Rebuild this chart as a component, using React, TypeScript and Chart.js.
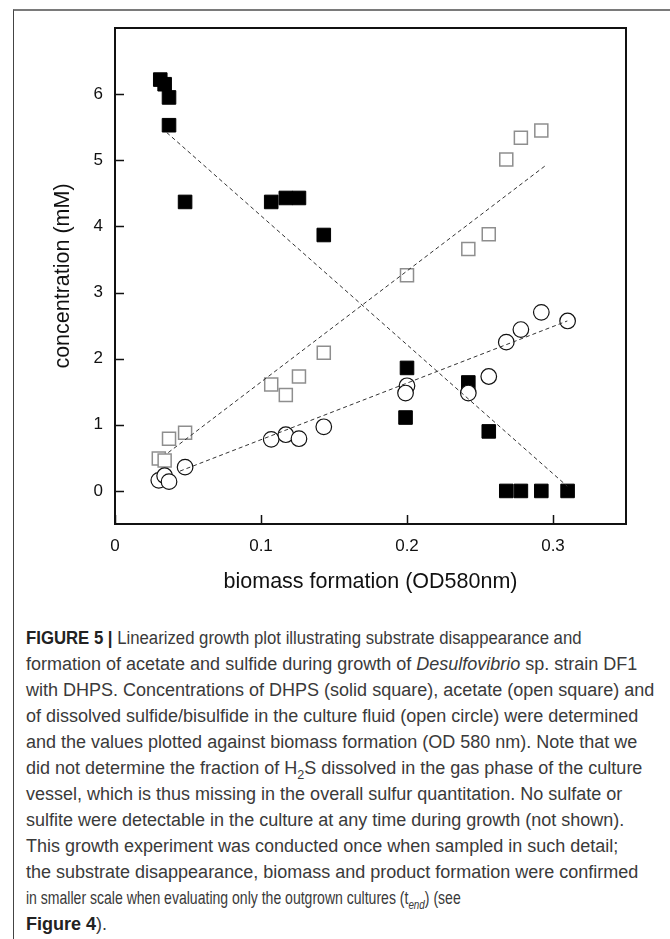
import React, { useEffect, useRef } from "react";
import { Chart, registerables } from "chart.js";

Chart.register(...registerables);

// ---- data (biomass OD580 vs concentration mM) ----
const dhpsOD = [0.031, 0.034, 0.037, 0.037, 0.048, 0.107, 0.117, 0.126, 0.143, 0.2, 0.199, 0.242, 0.256, 0.268, 0.278, 0.292, 0.31];
const dhpsConc = [6.22, 6.15, 5.95, 5.53, 4.37, 4.37, 4.43, 4.43, 3.87, 1.86, 1.11, 1.64, 0.9, 0, 0, 0, 0];

const acetateOD = [0.03, 0.034, 0.037, 0.048, 0.107, 0.117, 0.126, 0.143, 0.2, 0.242, 0.256, 0.268, 0.278, 0.292];
const acetateConc = [0.49, 0.46, 0.79, 0.88, 1.61, 1.45, 1.73, 2.09, 3.26, 3.66, 3.88, 5.01, 5.34, 5.45];

const sulfideOD = [0.03, 0.034, 0.037, 0.048, 0.107, 0.117, 0.126, 0.143, 0.2, 0.199, 0.242, 0.256, 0.268, 0.278, 0.292, 0.31];
const sulfideConc = [0.16, 0.23, 0.14, 0.36, 0.78, 0.85, 0.79, 0.97, 1.59, 1.48, 1.48, 1.73, 2.25, 2.44, 2.7, 2.57];

// linear fits (end points)
const dhpsFitOD = [0.0354, 0.3098];
const dhpsFitConc = [5.42, 0.07];
const acetateFitOD = [0.0365, 0.2949];
const acetateFitConc = [0.58, 4.92];
const sulfideFitOD = [0.0445, 0.3098];
const sulfideFitConc = [0.3, 2.57];

const xTicks = [0, 0.1, 0.2, 0.3];
const yTicks = [0, 1, 2, 3, 4, 5, 6];

const xTitle = "biomass formation (OD580nm)";
const yTitle = "concentration (mM)";

const pts = (xs: number[], ys: number[]) => xs.map((x, i) => ({ x, y: ys[i] }));

const frameTicks = {
  id: "frameTicks",
  afterDraw(chart: any) {
    const { ctx, chartArea: a, scales } = chart;
    ctx.save();
    ctx.strokeStyle = "#111";
    ctx.lineWidth = 2;
    ctx.strokeRect(a.left, a.top, a.right - a.left, a.bottom - a.top);
    ctx.lineWidth = 1.5;
    ctx.beginPath();
    for (const t of scales.x.ticks) {
      const px = Math.round(scales.x.getPixelForValue(t.value)) + 0.5;
      ctx.moveTo(px, a.bottom);
      ctx.lineTo(px, a.bottom - 9);
    }
    for (const t of scales.y.ticks) {
      const py = Math.round(scales.y.getPixelForValue(t.value)) + 0.5;
      ctx.moveTo(a.left, py);
      ctx.lineTo(a.left + 9, py);
    }
    ctx.stroke();
    ctx.restore();
  },
};

function ChartBox() {
  const ref = useRef<HTMLCanvasElement | null>(null);
  useEffect(() => {
    if (!ref.current) return;
    const fam = "'Liberation Sans', Arial, sans-serif";
    const fitStyle = {
      showLine: true,
      pointRadius: 0,
      borderColor: "#333",
      borderWidth: 1,
      borderDash: [4, 3],
      fill: false,
      order: -1,
    };
    const chart = new Chart(ref.current, {
      type: "scatter",
      data: {
        datasets: [
          { label: "DHPS fit", data: pts(dhpsFitOD, dhpsFitConc), ...fitStyle },
          { label: "acetate fit", data: pts(acetateFitOD, acetateFitConc), ...fitStyle },
          { label: "sulfide fit", data: pts(sulfideFitOD, sulfideFitConc), ...fitStyle },
          {
            label: "sulfide",
            data: pts(sulfideOD, sulfideConc),
            pointStyle: "circle",
            pointRadius: 7.8,
            backgroundColor: "#ffffff",
            borderColor: "#111",
            borderWidth: 1.2,
            order: 0,
          },
          {
            label: "acetate",
            data: pts(acetateOD, acetateConc),
            pointStyle: "rect",
            pointRadius: 9.2,
            backgroundColor: "#ffffff",
            borderColor: "#8e8e8e",
            borderWidth: 1.5,
            order: 1,
          },
          {
            label: "DHPS",
            data: pts(dhpsOD, dhpsConc),
            pointStyle: "rect",
            pointRadius: 9.6,
            backgroundColor: "#000",
            borderColor: "#000",
            borderWidth: 1,
            order: 2,
          },
        ],
      },
      options: {
        animation: false,
        responsive: false,
        maintainAspectRatio: false,
        devicePixelRatio: 1,
        layout: { padding: { left: 0, top: 28, right: 44, bottom: 0 } },
        plugins: { legend: { display: false }, tooltip: { enabled: false } },
        scales: {
          x: {
            type: "linear",
            min: 0,
            max: 0.35,
            grid: { display: false, drawTicks: false },
            border: { display: false },
            afterFit: (s: any) => {
              s.height = 76;
            },
            afterBuildTicks: (s: any) => {
              s.ticks = xTicks.map((v) => ({ value: v }));
            },
            ticks: {
              padding: 12,
              color: "#111",
              font: { family: fam, size: 17 },
              callback: (v: any) => (v === 0 ? "0" : Number(v).toFixed(1)),
            },
            title: {
              display: true,
              text: xTitle,
              color: "#111",
              font: { family: fam, size: 21.5 },
              padding: { top: 0, bottom: 5 },
            },
          },
          y: {
            type: "linear",
            min: -0.5,
            max: 7,
            grid: { display: false, drawTicks: false },
            border: { display: false },
            afterFit: (s: any) => {
              s.width = 115;
            },
            afterBuildTicks: (s: any) => {
              s.ticks = yTicks.map((v) => ({ value: v }));
            },
            ticks: {
              padding: 12,
              color: "#111",
              font: { family: fam, size: 17 },
              callback: (v: any) => String(v),
            },
            title: {
              display: true,
              text: yTitle,
              color: "#111",
              font: { family: fam, size: 21.5 },
              padding: { top: 50, bottom: 0 },
            },
          },
        },
      },
      plugins: [frameTicks],
    } as any);
    return () => chart.destroy();
  }, []);
  return (
    <canvas
      ref={ref}
      width={670}
      height={600}
      style={{ position: "absolute", left: 0, top: 0, width: 670, height: 600 }}
    />
  );
}

const subStyle: React.CSSProperties = { fontSize: "0.7em", lineHeight: 0 };

const captionLines: React.ReactNode[] = [
  <>
    <b style={{ color: "#222" }}>FIGURE 5 |</b> Linearized growth plot illustrating substrate disappearance and
  </>,
  <>
    formation of acetate and sulfide during growth of <i>Desulfovibrio</i> sp. strain DF1
  </>,
  <>with DHPS. Concentrations of DHPS (solid square), acetate (open square) and</>,
  <>of dissolved sulfide/bisulfide in the culture fluid (open circle) were determined</>,
  <>and the values plotted against biomass formation (OD 580 nm). Note that we</>,
  <>
    did not determine the fraction of H<sub style={subStyle}>2</sub>S dissolved in the gas phase of the culture
  </>,
  <>vessel, which is thus missing in the overall sulfur quantitation. No sulfate or</>,
  <>sulfite were detectable in the culture at any time during growth (not shown).</>,
  <>This growth experiment was conducted once when sampled in such detail;</>,
  <>the substrate disappearance, biomass and product formation were confirmed</>,
  <>
    in smaller scale when evaluating only the outgrown cultures (t
    <sub style={subStyle}>
      <i>end</i>
    </sub>
    ) (see
  </>,
  <>
    <b style={{ color: "#222" }}>Figure 4</b>).
  </>,
];

// horizontal squeeze per caption line (reference typeface is narrower on some lines)
const lineSqueeze = [0.93, 1, 1, 1, 1, 1, 1, 1, 1, 1, 0.78, 1];

export default function App() {
  return (
    <div style={{ position: "absolute", left: 0, top: 0, width: 670, height: 939, background: "#fff", overflow: "hidden" }}>
      <div
        style={{
          position: "absolute",
          left: 13,
          top: 9,
          width: 670,
          height: 940,
          borderTop: "2px solid #7a7a7a",
          borderLeft: "1px solid #444",
          boxSizing: "border-box",
        }}
      />
      <ChartBox />
      <div
        style={{
          position: "absolute",
          left: 26,
          top: 625,
          fontFamily: "'Liberation Sans', Arial, sans-serif",
          fontSize: 18,
          lineHeight: "26px",
          color: "#3a3a3a",
          whiteSpace: "nowrap",
        }}
      >
        {captionLines.map((l, i) => (
          <div key={i} style={{ transform: `scaleX(${lineSqueeze[i]})`, transformOrigin: "0 50%" }}>
            {l}
          </div>
        ))}
      </div>
    </div>
  );
}
